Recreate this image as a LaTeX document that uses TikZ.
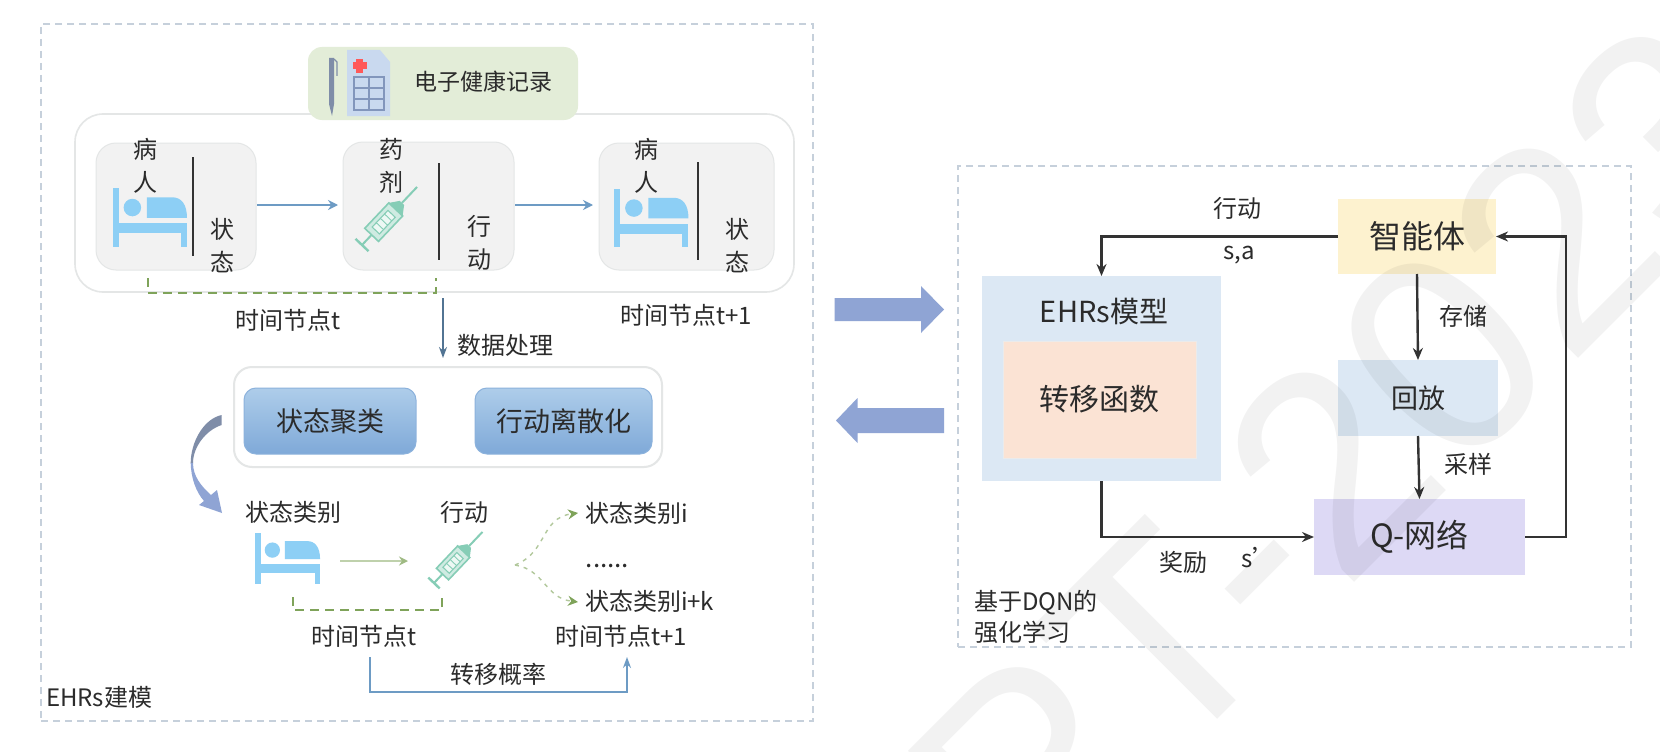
\documentclass[tikz,border=0pt]{standalone}
\usepackage{fontspec}
\setmainfont{Noto Sans CJK SC}
\newfontfamily\wmfont{Liberation Sans}
\usetikzlibrary{arrows.meta,shadings,shapes.geometric}
\definecolor{txt}{HTML}{2B2B2B}
\definecolor{framec}{HTML}{C6D0DB}
\definecolor{bedc}{HTML}{8DCFF5}
\definecolor{syrc}{HTML}{86CDB6}
\definecolor{greybox}{HTML}{F2F2F2}
\definecolor{edgec}{HTML}{E4E6E6}
\definecolor{flowc}{HTML}{6D9BC4}
\definecolor{brc}{HTML}{7FA35A}
\definecolor{midc}{HTML}{8FA4D4}
\definecolor{darkc}{HTML}{333333}
\definecolor{ehrg}{HTML}{E3EDD8}
\definecolor{modelc}{HTML}{DCE8F4}
\definecolor{peach}{HTML}{FBE3D4}
\definecolor{agentc}{HTML}{FDF2CF}
\definecolor{qc}{HTML}{DDD9F5}
\definecolor{btop}{HTML}{AECDEA}
\definecolor{bbot}{HTML}{7FA9D8}
\definecolor{docc}{HTML}{C9D9EF}
\definecolor{gridc}{HTML}{8296BC}
\definecolor{penc}{HTML}{7F8DA8}
\newcommand{\fs}[1]{\fontsize{#1}{#1}\selectfont}
\tikzset{
  x=1pt,y=-1pt,
  every node/.style={inner sep=0pt,outer sep=0pt,text=txt},
  frame/.style={draw=framec,line width=1.1pt,dash pattern=on 7pt off 5pt},
  box/.style={anchor=north west},
  stack/.style={align=center,font=\fontsize{24}{33}\selectfont},
  lab/.style={font=\fs{24}},
  greyb/.style={box,fill=greybox,draw=edgec,line width=1pt,rounded corners=20pt},
  blueb/.style={box,top color=btop,bottom color=bbot,draw=bbot!90,line width=1pt,rounded corners=12pt,font=\fs{27}},
  flatb/.style={box,minimum height=75pt,font=\fs{32}},
  flow/.style={draw=flowc,line width=2.6pt,-{Stealth[length=10pt,width=10pt]}},
  lineflow/.style={draw=#1,line width=1.5pt,-{Stealth[length=11pt,width=8pt]}},
  bracket/.style={draw=brc,line width=1.8pt,dash pattern=on 9pt off 6pt},
  dark/.style={draw=darkc,line width=2.4pt,-{Stealth[length=12pt,width=10pt]}},
  spray/.style={draw=brc!60,line width=1.4pt,dash pattern=on 4pt off 5pt,-{Stealth[length=10pt,width=10pt,color=brc]}},
}
\newcommand{\bedicon}[3]{%
  \begin{scope}[shift={(#1,#2)},scale=#3]
    \fill[bedc] (0,0) rectangle (6.3,57);
    \fill[bedc] (6,34) rectangle (72.3,44);
    \fill[bedc] (66.3,34) rectangle (72.3,57);
    \fill[bedc] (19.3,19) circle[radius=8.5];
    \fill[bedc] (33.3,29) -- (33.3,9) -- (58,9) .. controls (67,9) and (72.3,16) .. (72.3,29) -- cycle;
  \end{scope}}
\newcommand{\syricon}[3]{%
  \begin{scope}[shift={(#1,#2)},scale=#3,rotate=46.5]
    \draw[syrc,line width=2.4pt] (0,-9) -- (0,9);
    \draw[syrc,line width=2pt] (0,0) -- (14,0);
    \draw[syrc,line width=1.6pt,fill=syrc!40] (14,-9.5) rectangle (49,9.5);
    \draw[syrc,line width=1.1pt,fill=syrc!15] (20,-5) rectangle (43,5);
    \draw[syrc,line width=.9pt] (26,-5) -- (26,5) (32,-5) -- (32,5) (38,-5) -- (38,5);
    \fill[syrc] (49,-9.5) -- (58,-3) -- (58,3) -- (49,9.5) -- cycle;
    \draw[syrc,line width=2pt] (58,0) -- (80,0);
  \end{scope}}
\begin{document}
\begin{tikzpicture}
\useasboundingbox (0,0) rectangle (1660,752);
\fill[white] (0,0) rectangle (1660,752);
% frames
\node[box,frame,minimum width=772pt,minimum height=697pt] (leftframe) at (41,24) {};
\node[box,frame,minimum width=673pt,minimum height=481pt] (rightframe) at (958,166) {};
% top envelope
\node[box,draw=edgec,line width=1.6pt,fill=white,rounded corners=28pt,minimum width=719pt,minimum height=178pt] (env) at (75,114) {};
\node[box,fill=ehrg,rounded corners=14pt,minimum width=270pt,minimum height=73pt] (ehr) at (308,47) {};
% EHR icon
\fill[penc] (329,58) rectangle (334,104) -- (332,116) -- (329,104) -- cycle;
\draw[penc,line width=1.2pt] (334,59) -- (337,62) -- (337,76);
\fill[docc] (347,50) -- (380,50) -- (390,62) -- (390,116) -- (347,116) -- cycle;
\fill[red!65!white] (356,59) rectangle (363,73);
\fill[red!65!white] (353,62.5) rectangle (367,69.5);
\draw[gridc,line width=1.5pt] (354,77) rectangle (384,110) (354,88) -- (384,88) (354,99) -- (384,99) (369,77) -- (369,110);
\node[font=\fs{23}] (ehrtext) at (483,82) {电子健康记录};
% three states
\node[greyb,minimum width=160pt,minimum height=127pt] (p1) at (96,143) {};
\node[greyb,minimum width=171pt,minimum height=128pt] (d1) at (343,142) {};
\node[greyb,minimum width=175pt,minimum height=127pt] (p2) at (599,143) {};
\draw[darkc,line width=1.8pt] (193,157) -- (193,256) (439,163) -- (439,260) (698,162) -- (698,260);
\bedicon{112.5}{188}{1.03}
\bedicon{614}{188.5}{1.03}
\syricon{362}{245}{1}
\node[stack] (t1) at (145,166) {病\\人};
\node[stack] (t2) at (222,245.5) {状\\态};
\node[stack] (t3) at (391,165.5) {药\\剂};
\node[stack] (t4) at (479,243) {行\\动};
\node[stack] (t5) at (646,166) {病\\人};
\node[stack] (t6) at (737,245.5) {状\\态};
\draw[flow,shorten >=5pt,shorten <=1pt] (p1.east |- 0,205) -- (d1.west |- 0,205);
\draw[flow,shorten >=6pt,shorten <=1pt] (d1.east |- 0,205) -- (p2.west |- 0,205);
\coordinate (bra) at (148,278); \coordinate (brb) at (148,293); \coordinate (brc1) at (436,293); \coordinate (brd) at (436,278);
\draw[bracket] (bra) -- (brb) -- (brc1) -- (brd);
\node[lab] (tn1) at (288,320) {时间节点t};
\node[lab] (tn2) at (686,315) {时间节点t+1};
\coordinate (dtop) at (443,298); \coordinate (dbot) at (443,358);
\draw[lineflow=flowc!75!black] (dtop) -- (dbot);
\node[lab] (proc) at (505.5,345) {数据处理};
% processing box
\node[box,draw=edgec,line width=2pt,fill=white,rounded corners=18pt,minimum width=428pt,minimum height=100pt] (procbox) at (234,367) {};
\node[blueb,minimum width=172pt,minimum height=66pt] (cluster) at (244,388) {状态聚类};
\node[blueb,minimum width=177pt,minimum height=66pt] (discrete) at (475,388) {行动离散化};
% crescent arrow
\fill[penc] (221.7,415) .. controls (203,419) and (190.7,443) .. (190.7,463) -- (193,463) .. controls (193,447) and (206,430) .. (221.7,425) -- cycle;
\fill[midc] (190.7,463) .. controls (191,478) and (196,492) .. (204,501) -- (199,505) -- (222,513) -- (217,490) -- (211,495) .. controls (201,486) and (193,476) .. (193,463) -- cycle;
% lower row
\node[lab] (cat) at (293,512) {状态类别};
\node[lab] (act) at (464,512) {行动};
\bedicon{255}{533}{0.9}
\syricon{434}{583}{0.88}
\coordinate (ga) at (340,561); \coordinate (gb) at (408,561);
\draw[draw=brc!50,line width=2.2pt,-{Stealth[length=9pt,width=9pt,color=brc!75]}] (ga) -- (gb);
\coordinate (fork) at (515,565); \coordinate (fa) at (578,513); \coordinate (fb) at (578,602);
\draw[spray] (fork) .. controls (548,552) and (540,518) .. (fa);
\draw[spray] (fork) .. controls (545,570) and (545,598) .. (fb);
\node[lab,anchor=west] (ci) at (585,513) {状态类别i};
\node[font=\fs{26},anchor=base] (dots) at (607.5,567) {......};
\node[lab,anchor=west] (cik) at (585,601) {状态类别i+k};
\coordinate (brl1) at (293,597); \coordinate (brl2) at (293,610); \coordinate (brl3) at (442,610); \coordinate (brl4) at (442,597);
\draw[bracket] (brl1) -- (brl2) -- (brl3) -- (brl4);
\node[lab] (tn3) at (364,636) {时间节点t};
\node[lab] (tn4) at (621,636) {时间节点t+1};
\coordinate (la) at (370,657); \coordinate (lb) at (370,692); \coordinate (lc) at (627,692); \coordinate (ld) at (627,657);
\draw[lineflow=flowc] (la) -- (lb) -- (lc) -- (ld);
\node[lab] (prob) at (498,674) {转移概率};
\node[lab,anchor=west] (ehrs) at (46,697) {EHRs建模};
% middle arrows
\fill[midc] (834.5,298) -- (921,298) -- (921,286) -- (944,309.5) -- (921,333) -- (921,321) -- (834.5,321) -- cycle;
\fill[midc] (944,408) -- (857.5,408) -- (857.5,398) -- (836,420.5) -- (857.5,443) -- (857.5,433) -- (944,433) -- cycle;
% right panel
\node[box,fill=modelc,minimum width=239pt,minimum height=205pt] (model) at (982,276) {};
\node[box,fill=peach,draw=black!8,line width=1pt,minimum width=193pt,minimum height=117pt,font=\fs{30}] (trans) at (1003,341) {转移函数};
\node[font=\fs{29}] (modeltext) at (1104,311) {EHRs模型};
\node[flatb,fill=agentc,minimum width=158pt] (agent) at (1338,199) {智能体};
\node[flatb,fill=modelc,minimum width=160pt,minimum height=76pt,font=\fs{27}] (replay) at (1338,360) {回放};
\node[flatb,fill=qc,minimum width=211pt,minimum height=76pt] (q) at (1314,499) {Q-网络};
\coordinate (qr) at (1566,537);
\draw[dark] (agent.west) -| (model.north);
\draw[dark] (agent.south) -- (replay.north);
\draw[dark] (replay.south) -- (q.north);
\draw[dark] (model.south) |- (q.west);
\draw[dark] (q.east) -- (qr) -- (qr |- agent.east) -- (agent.east);
\node[lab] (ract) at (1237,208) {行动};
\node[lab] (sa) at (1239,255) {s,a};
\node[lab] (store) at (1463,316) {存储};
\node[lab] (samp) at (1468,464) {采样};
\node[lab] (rew) at (1183,562) {奖励};
\node[lab] (sp) at (1259,558) {s'};
\node[lab,anchor=west] (dqn1) at (974,603) {基于DQN的};
\node[lab,anchor=west] (dqn2) at (974,632) {强化学习};
% watermark
\begin{scope}
\clip (0,0) rectangle (1660,752);
\node[anchor=base west,rotate=45,text=black,text opacity=0.05,font=\wmfont\fontsize{285}{285}\selectfont] (wm) at (874,1063) {GPT-2023};
\end{scope}
\end{tikzpicture}
\end{document}
